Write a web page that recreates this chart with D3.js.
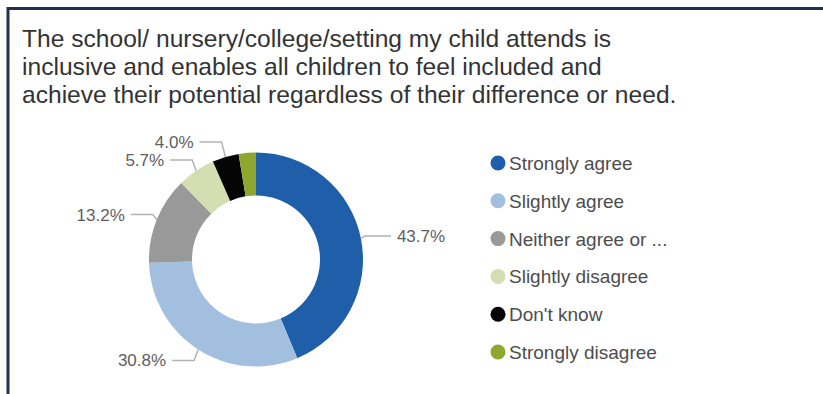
<!DOCTYPE html>
<html>
<head>
<meta charset="utf-8">
<script src="https://cdn.jsdelivr.net/npm/d3@7/dist/d3.min.js"></script>
<style>
  html, body { margin: 0; padding: 0; background: #fff; }
  svg { display: block; font-family: "Liberation Sans", Arial, sans-serif; }
</style>
</head>
<body>
<svg id="chart" width="823" height="394"></svg>
<script>
// Survey answers, in drawing order (clockwise from 12 o'clock)
const categories = [
  "Strongly agree",
  "Slightly agree",
  "Neither agree or disagree",
  "Slightly disagree",
  "Don't know",
  "Strongly disagree"
];
const values = [43.7, 30.8, 13.2, 5.7, 4.0, 2.6];
const colors = ["#1f5ea9", "#a3bfdf", "#999999", "#d3dfb1", "#050505", "#8ea72f"];
const titleLines = [
  "The school/ nursery/college/setting my child attends is",
  "inclusive and enables all children to feel included and",
  "achieve their potential regardless of their difference or need."
];

const svg = d3.select("#chart");

// Frame: heavy rule along the top and left edge
svg.append("path")
  .attr("d", "M8,394V8.5H823")
  .attr("fill", "none")
  .attr("stroke", "#25304c")
  .attr("stroke-width", 3);

// Title
svg.append("g").selectAll("text")
  .data(titleLines)
  .join("text")
  .attr("x", 22)
  .attr("y", (d, i) => 47 + i * 28)
  .attr("font-size", 24.6)
  .attr("fill", "#333")
  .text(d => d);

// Donut
const cx = 256, cy = 259.5, rOuter = 107, rInner = 64;
const data = categories.map((c, i) => ({ name: c, value: values[i], color: colors[i] }));
const pie = d3.pie().value(d => d.value).sort(null);
const arcs = pie(data);
const arc = d3.arc().innerRadius(rInner).outerRadius(rOuter);

const g = svg.append("g").attr("transform", `translate(${cx},${cy})`);
g.selectAll("path.slice")
  .data(arcs)
  .join("path")
  .attr("class", "slice")
  .attr("d", arc)
  .attr("fill", d => d.data.color);

// Data labels with elbow leader lines
const fmt = d3.format(".1f");
const labelR = 120, gap = 18, pad = 6;
const labels = arcs.filter(d => d.data.value >= 3).map(d => {
  const a = (d.startAngle + d.endAngle) / 2;
  const side = Math.sin(a) >= 0 ? 1 : -1;
  return {
    d, a, side,
    px: rOuter * Math.sin(a),
    py: -rOuter * Math.cos(a),
    y: -labelR * Math.cos(a)
  };
});
// keep labels on each side from overlapping (push upward from the bottom)
[-1, 1].forEach(s => {
  const side = labels.filter(l => l.side === s).sort((a, b) => b.y - a.y);
  for (let i = 1; i < side.length; i++) {
    if (side[i].y > side[i - 1].y - gap) side[i].y = side[i - 1].y - gap;
  }
});
labels.forEach(l => {
  l.ex = l.px + l.side * 4;
  l.hx = l.ex + l.side * (l.side > 0 ? 26 : 22);
});

g.selectAll("path.leader")
  .data(labels)
  .join("path")
  .attr("class", "leader")
  .attr("d", l => `M${l.px},${l.py}L${l.ex},${l.y}L${l.hx},${l.y}`)
  .attr("fill", "none")
  .attr("stroke", "#b3b3b3")
  .attr("stroke-width", 1.5);

g.selectAll("text.label")
  .data(labels)
  .join("text")
  .attr("class", "label")
  .attr("x", l => l.hx + l.side * pad)
  .attr("y", l => l.y)
  .attr("dy", "0.35em")
  .attr("text-anchor", l => l.side > 0 ? "start" : "end")
  .attr("font-size", 17)
  .attr("fill", "#5e5e5e")
  .text(l => fmt(l.d.data.value) + "%");

// Legend
const legend = svg.append("g").attr("transform", "translate(498,163)");
const items = legend.selectAll("g")
  .data(data)
  .join("g")
  .attr("transform", (d, i) => `translate(0,${i * 37.8})`);
items.append("circle")
  .attr("r", 7.5)
  .attr("fill", d => d.color);
const maxW = 165;
items.append("text")
  .attr("x", 11)
  .attr("dy", "0.37em")
  .attr("font-size", 19)
  .attr("fill", "#4d4d4d")
  .each(function (d) {
    const t = d3.select(this).text(d.name);
    if (this.getComputedTextLength() > maxW) {
      let s = d.name;
      while (s.length > 1) {
        s = s.slice(0, -1);
        t.text(s + "...");
        if (this.getComputedTextLength() <= maxW) break;
      }
    }
  });
</script>
</body>
</html>
